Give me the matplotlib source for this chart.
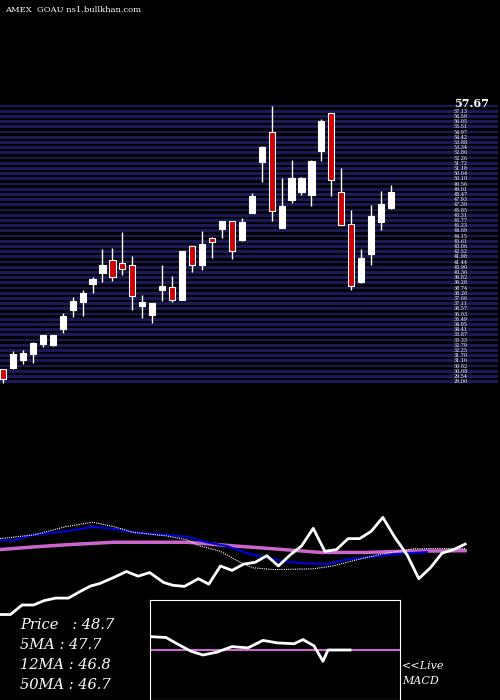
import matplotlib
matplotlib.use("Agg")
import matplotlib.pyplot as plt
import numpy as np

# ---- daily OHLC ----
opens = [30.32, 30.42, 31.25, 31.88, 32.92, 32.81, 34.48, 36.45, 37.29, 39.16,
         40.30, 41.65, 41.34, 41.13, 36.87, 35.93, 38.53, 38.85, 37.49, 43.11,
         41.13, 43.94, 44.88, 45.71, 43.73, 46.54, 51.85, 54.97, 44.98, 47.89,
         48.73, 48.41, 52.99, 56.94, 48.73, 45.40, 39.37, 42.28, 45.61, 47.06]
highs = [30.32, 32.19, 32.29, 33.13, 33.85, 33.85, 36.14, 37.81, 38.53, 39.89,
         42.80, 42.90, 44.57, 42.07, 38.01, 37.18, 41.13, 39.99, 42.59, 43.11,
         44.67, 44.05, 45.71, 45.71, 46.02, 48.62, 53.51, 57.67, 50.18, 52.05,
         50.29, 52.05, 56.32, 56.94, 51.22, 46.85, 42.80, 47.37, 48.83, 49.45]
lows = [28.86, 30.32, 30.84, 30.94, 32.61, 32.71, 34.06, 35.73, 35.83, 38.22,
        39.37, 39.47, 40.09, 36.45, 35.62, 35.10, 37.39, 37.29, 37.49, 40.41,
        40.61, 41.86, 43.94, 41.76, 43.63, 46.54, 49.77, 45.71, 44.98, 47.58,
        48.41, 47.27, 51.95, 48.31, 45.29, 38.53, 39.26, 41.13, 44.77, 46.96]
closes = [29.28, 31.88, 31.98, 33.02, 33.85, 33.85, 35.83, 37.39, 38.22, 39.68,
          41.13, 39.89, 40.72, 37.91, 37.29, 37.18, 38.95, 37.49, 42.59, 41.13,
          43.32, 43.53, 45.71, 42.59, 45.61, 48.31, 53.41, 46.75, 47.27, 50.18,
          50.18, 51.95, 56.11, 49.97, 45.29, 38.95, 41.86, 46.23, 47.48, 48.73]

# ---- lower panel (price line and moving averages, relative units) ----
price_x = [0, 0.9, 1.9, 2.9, 3.8, 4.8, 5.9, 6.9, 7.8, 8.6, 9.9, 10.9, 11.9, 12.9,
           14.1, 14.9, 15.9, 17.1, 18.0, 19.0, 20.0, 21.0, 22.0, 23.0, 24.0, 25.0,
           26.0, 27.0, 28.0, 29.0, 30.0, 31.0, 32.0, 33.0, 34.0, 35.1, 36.1, 37.1,
           38.1, 39.1, 40.1]
price_v = [0, 0, 8.7, 8.7, 12.7, 15.0, 15.0, 21.0, 26.0, 28.3, 34.3, 39.3, 35.0,
           38.3, 29.3, 26.7, 25.7, 32.7, 27.7, 44.3, 40.3, 46.0, 47.7, 53.7, 44.3,
           54.3, 62.7, 78.7, 57.7, 59.3, 69.3, 69.3, 76.0, 88.7, 71.0, 54.3, 32.7,
           42.7, 56.0, 59.3, 64.3]
ma5_x = [0, 1.1, 2.9, 5.7, 8.0, 9.8, 11.5, 14.4, 16.1, 17.8, 19.5, 21.3, 23.0,
         24.7, 26.4, 28.2, 29.9, 31.6, 33.3, 35.1, 36.8]
ma5_v = [67.7, 67.7, 72.7, 76.0, 80.0, 78.3, 75.0, 72.7, 71.0, 66.0, 62.7, 56.0,
         51.7, 48.3, 46.7, 46.0, 50.3, 52.0, 54.3, 56.0, 57.0]
ma50_x = [0, 2.9, 5.7, 9.8, 16.1, 20.1, 23.6, 27.6, 31.6, 34.5, 40.1]
ma50_v = [59.3, 61.7, 63.7, 66.0, 66.0, 62.7, 60.0, 56.7, 56.7, 57.7, 58.3]
ma12_x = [0, 2.9, 5.7, 8.0, 9.8, 11.5, 14.4, 16.1, 17.2, 19.0, 20.7, 21.8, 23.6,
          27.0, 28.7, 30.5, 32.8, 35.6, 37.9, 40.1]
ma12_v = [69.3, 72.7, 80.3, 84.3, 80.3, 75.0, 71.7, 68.3, 62.7, 57.7, 47.7, 42.7,
          41.0, 41.7, 44.3, 49.3, 55.0, 60.0, 60.3, 60.3]

# ---- MACD box ----
macd_x = [0, 1.6, 2.7, 4.1, 5.3, 6.7, 8.2, 9.8, 11.3, 12.7, 14.4, 15.3, 16.4,
          17.3, 17.8, 20.0]
macd_v = [10.7, 10.0, 5.0, -1.0, -4.0, -1.7, 2.7, 1.7, 7.7, 5.7, 5.0, 8.3, 3.3,
          -9.0, 0, 0]
signal_level = 0

W, H = 500, 700
fig = plt.figure(figsize=(5, 7), dpi=100, facecolor="black")


def px_axes(x0, y0, x1, y1):
    # axes from pixel box (top-left origin)
    a = fig.add_axes([x0 / W, 1 - y1 / H, (x1 - x0) / W, (y1 - y0) / H])
    a.set_facecolor("black")
    a.axis("off")
    return a


# price panel
ax = px_axes(0, 97, 500, 385)
ax.set_xlim(-0.3, 49.95)
ax.set_ylim(28.65, 58.61)
levels = np.linspace(29.0, 57.67, 54)
step = levels[1] - levels[0]
for lv in levels:
    ax.axhspan(lv - step * 0.28, lv + step * 0.28, xmin=0, xmax=0.995,
               color="#1a1a5a", lw=0, zorder=0)
for lv in levels[:-1]:
    ax.text(45.3, lv, f"{lv:.2f}", color="white", fontsize=3.5,
            va="center", ha="left", family="DejaVu Serif")
ax.text(45.3, 57.9, "57.67", color="white", fontsize=8, fontweight="bold",
        va="center", ha="left", family="DejaVu Serif")

idx = np.arange(len(opens))
for i, o, h, l, c in zip(idx, opens, highs, lows, closes):
    up = c >= o
    ax.vlines(i, l, h, color="white", lw=1, zorder=2)
    ax.bar(i, abs(c - o) or 0.15, bottom=min(o, c), width=0.62,
           color="white" if up else "#cc0000", edgecolor="white", lw=0.8,
           zorder=3)

# moving-average panel
ax2 = px_axes(0, 505, 500, 620)
ax2.set_xlim(0, 43.1)
ax2.set_ylim(-5, 100)
ax2.plot(ma50_x, ma50_v, color="#cc66cc", lw=2.5)
ax2.plot(ma5_x, ma5_v, color="#0000dd", lw=1.5)
ax2.plot(ma12_x, ma12_v, color="white", lw=0.8, ls=(0, (1, 1)))
ax2.plot(price_x, price_v, color="white", lw=2)

# MACD panel
ax3 = fig.add_axes([150 / W, 0, 250 / W, 100 / H])
ax3.set_facecolor("black")
ax3.set_xticks([])
ax3.set_yticks([])
for s in ax3.spines.values():
    s.set_color("white")
    s.set_linewidth(0.8)
ax3.set_xlim(0, 25)
ax3.set_ylim(-40, 40)
ax3.axhline(signal_level, color="#cc66cc", lw=1.5)
ax3.plot(macd_x, macd_v, color="white", lw=2)

tfont = dict(color="white", family="DejaVu Serif", style="italic")
for k, line in enumerate(["Price   : 48.7", "5MA : 47.7", "12MA : 46.8",
                          "50MA : 46.7"]):
    fig.text(20 / W, 1 - (625 + 20 * k) / H, line, fontsize=10.5,
             va="center", **tfont)
fig.text(402 / W, 1 - 666 / H, "<<Live", fontsize=8, va="center", **tfont)
fig.text(402 / W, 1 - 681 / H, "MACD", fontsize=8, va="center", **tfont)
fig.text(5 / W, 1 - 10 / H, "AMEX  GOAU ns1.bullkhan.com", fontsize=6,
         color="white", family="DejaVu Serif", va="center")

fig.savefig("out.png", dpi=100, facecolor="black")
